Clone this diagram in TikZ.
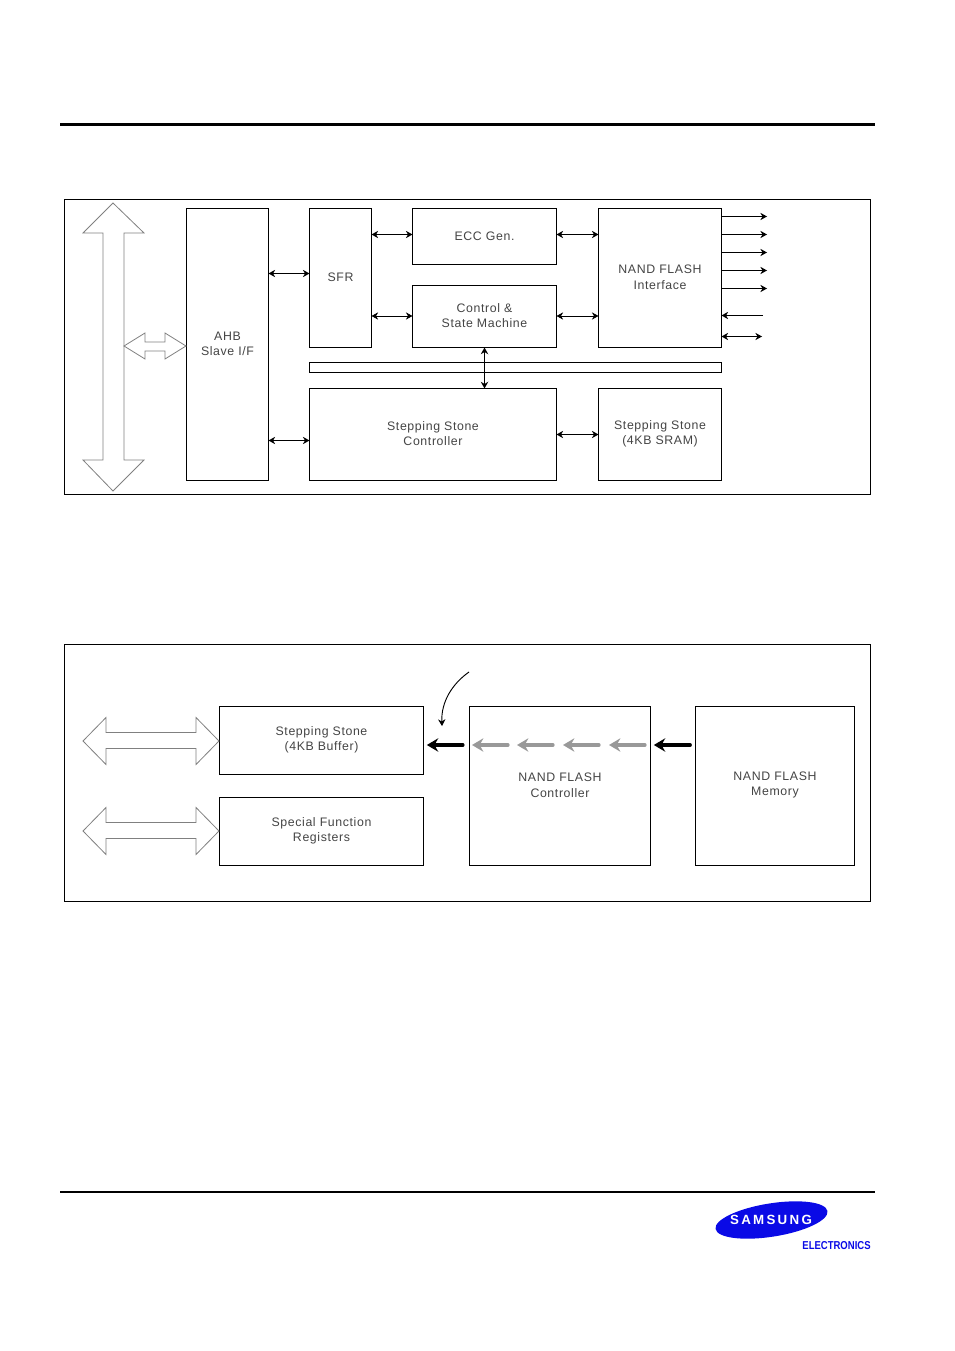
\documentclass[tikz,border=0pt]{standalone}
\usepackage{fontspec}
\setmainfont{Liberation Sans}
\newfontfamily\labelfont[LetterSpace=5]{Liberation Sans}
\newfontfamily\logofont[LetterSpace=17]{Liberation Sans}
\usetikzlibrary{arrows.meta,shapes.geometric}
\definecolor{logoblue}{HTML}{0A0AE6}
\definecolor{labelgray}{HTML}{444444}
\tikzset{
 blockbox/.style={draw,line width=.6pt,inner sep=0pt,outer sep=0pt},
 boxtext/.style={inner sep=0pt,align=center,text=labelgray,font=\labelfont\fontsize{9.25}{11.4}\selectfont},
 sigline/.style={line width=.7pt,-{Stealth[length=5pt,width=5.5pt]}},
 sigboth/.style={line width=.7pt,{Stealth[length=5pt,width=5.5pt]}-{Stealth[length=5pt,width=5.5pt]}},
 busline/.style={line width=2.6pt,line cap=round,-{Stealth[length=8.5pt,width=10pt]}},
 hollowfat/.style={line width=.6pt,gray,fill=white,line join=miter},
}
\begin{document}
\begin{tikzpicture}[x=.75pt,y=-.75pt]
\useasboundingbox (0,0) rectangle (954,1351);
\draw[line width=2.2pt](60,124.5)--(875,124.5);
\draw[line width=1.6pt](60,1192)--(875,1192);
\foreach \nm/\xa/\ya/\xb/\yb/\txt in {frameA/64/199/870/494/{},ahb/186/208/268/480/{AHB\\Slave I/F},sfr/309/208/371/347/SFR,ecc/412/208/556/264/ECC Gen.,ctrl/412/285/556/347/{Control \&\\State Machine},nif/598/208/721/347/{NAND FLASH\\Interface},bar/309/362/721/372/{},ssc/309/388/556/480/{Stepping Stone\\Controller},sram/598/388/721/480/{Stepping Stone\\(4KB SRAM)},frameB/64/644/870/901/{},buf/219/706/423/774/{Stepping Stone\\(4KB Buffer)},regs/219/797/423/865/{Special Function\\Registers},nfc/469/706/650/865/{NAND FLASH\\Controller},mem/695/706/854/865/{NAND FLASH\\Memory}}{
\pgfmathsetmacro{\w}{(\xb-\xa)*.75}
\pgfmathsetmacro{\h}{(\yb-\ya)*.75}
\node[blockbox,minimum width=\w pt,minimum height=\h pt](\nm) at ({(\xa+\xb)/2+.5},{(\ya+\yb)/2+.5}) {};
\node[boxtext](\nm text) at ([yshift=.5pt]\nm.center) {\txt};}
% system bus arrows
\draw[hollowfat](113,203)--(144,233)--(124,233)--(124,460)--(144,460)--(113,491)--(83,460)--(103,460)--(103,233)--(83,233)--cycle;
\draw[hollowfat](124,346)--(145,333)--(145,342)--(165,342)--(165,333)--(186,346)--(165,359)--(165,351)--(145,351)--(145,359)--cycle;
\foreach \y in {741,831}{\draw[hollowfat](83,\y)--(106,\y-23.5)--(106,\y-8.5)--(196,\y-8.5)--(196,\y-23.5)--(219,\y)--(196,\y+23.5)--(196,\y+7.5)--(106,\y+7.5)--(106,\y+23.5)--cycle;}
% block to block
\foreach \a/\b/\y in {ahb/sfr/273.5,ahb/ssc/440.5,sfr/ecc/234.5,sfr/ctrl/316,ecc/nif/234.5,ctrl/nif/316,ssc/sram/434.5}{\draw[sigboth](\a.east |- 0,\y)--(\b.west |- 0,\y);}
\draw[sigboth,line width=1.2pt](ctrl.south)--(ctrl.south |- ssc.north);
% nand pins
\foreach \i/\y in {a/216.5,b/234.5,c/252.5,d/270.5,e/288.5}{\coordinate (pin\i) at (767,\y);\draw[sigline](nif.east |- pin\i)--(pin\i);}
\coordinate (pinin) at (763,315.5);
\draw[sigline](pinin)--(nif.east |- pinin);
\coordinate (pinio) at (762,336.5);
\draw[sigboth](nif.east |- pinio)--(pinio);
% data flow
\coordinate (busy) at (0,745);
\draw[busline,shorten <=5pt,shorten >=2.5pt](nfc.west |- busy)--(buf.east |- busy);
\draw[busline,shorten <=4pt,shorten >=2.5pt](mem.west |- busy)--(nfc.east |- busy);
\foreach \xs in {508,553,599,645}{\coordinate (flow\xs) at (\xs,745);\coordinate (tip\xs) at (\xs-36,745);\draw[busline,gray!80,line width=2.4pt](flow\xs)--(tip\xs);}
\coordinate (curvestart) at (469,672);
\coordinate (curveend) at (442,726);
\draw[sigline](curvestart) .. controls (452,684) and (441,702) .. (curveend);
% logo
\node[ellipse,fill=logoblue,minimum width=85pt,minimum height=25pt,inner sep=0pt,rotate=9](logo) at (771.5,1220) {};
\node[text=white,font=\logofont\bfseries\fontsize{10}{12}\selectfont,inner sep=0pt](logoname) at (771,1220) {SAMSUNG};
\node[text=logoblue,font=\bfseries\fontsize{8.6}{10}\selectfont,inner sep=0pt](logosub) at (836.5,1246) {\scalebox{.83}[1]{ELECTRONICS}};
\end{tikzpicture}
\end{document}
